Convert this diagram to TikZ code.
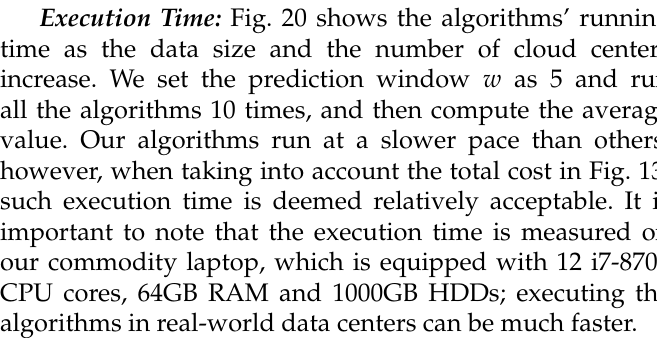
\documentclass[tikz,border=0pt]{standalone}
\usepackage[T1]{fontenc}
\usepackage{mathpazo}
\usepackage{tikz}

\newlength{\linew}
\setlength{\linew}{263.8pt}

\begin{document}
\frenchspacing
\begin{tikzpicture}[x=1pt,y=1pt,
      every node/.style={anchor=base west,inner sep=0pt,outer sep=0pt},
      txtline/.style={font=\fontsize{10}{12}\selectfont}]
    \useasboundingbox (0,0) rectangle (258.5,132.6);
    \clip (0,0) rectangle (258.5,132.6);
    % paragraph lines, justified to the column width
    \node[txtline] (l1) at (15.6,122) {\makebox[\dimexpr\linew-15.6pt][s]{\textbf{\textit{Execution Time:}} Fig. 20 shows the algorithms' running}};
    \node[txtline] (l2) at (0,110) {\makebox[\linew][s]{time as the data size and the number of cloud centers}};
    \node[txtline] (l3) at (0,98) {\makebox[\linew][s]{increase. We set the prediction window $w$ as 5 and run}};
    \node[txtline] (l4) at (0,86) {\makebox[\linew][s]{all the algorithms 10 times, and then compute the average}};
    \node[txtline] (l5) at (0,74) {\makebox[\linew][s]{value. Our algorithms run at a slower pace than others;}};
    \node[txtline] (l6) at (0,62) {\makebox[\linew][s]{however, when taking into account the total cost in Fig. 13,}};
    \node[txtline] (l7) at (0,50) {\makebox[\linew][s]{such execution time is deemed relatively acceptable. It is}};
    \node[txtline] (l8) at (0,38) {\makebox[\linew][s]{important to note that the execution time is measured on}};
    \node[txtline] (l9) at (0,26) {\makebox[\linew][s]{our commodity laptop, which is equipped with 12 i7-8700}};
    \node[txtline] (l10) at (0,14) {\makebox[\linew][s]{CPU cores, 64GB RAM and 1000GB HDDs; executing the}};
    \node[txtline] (l11) at (0,2) {algorithms in real-world data centers can be much faster.};
\end{tikzpicture}
\end{document}
